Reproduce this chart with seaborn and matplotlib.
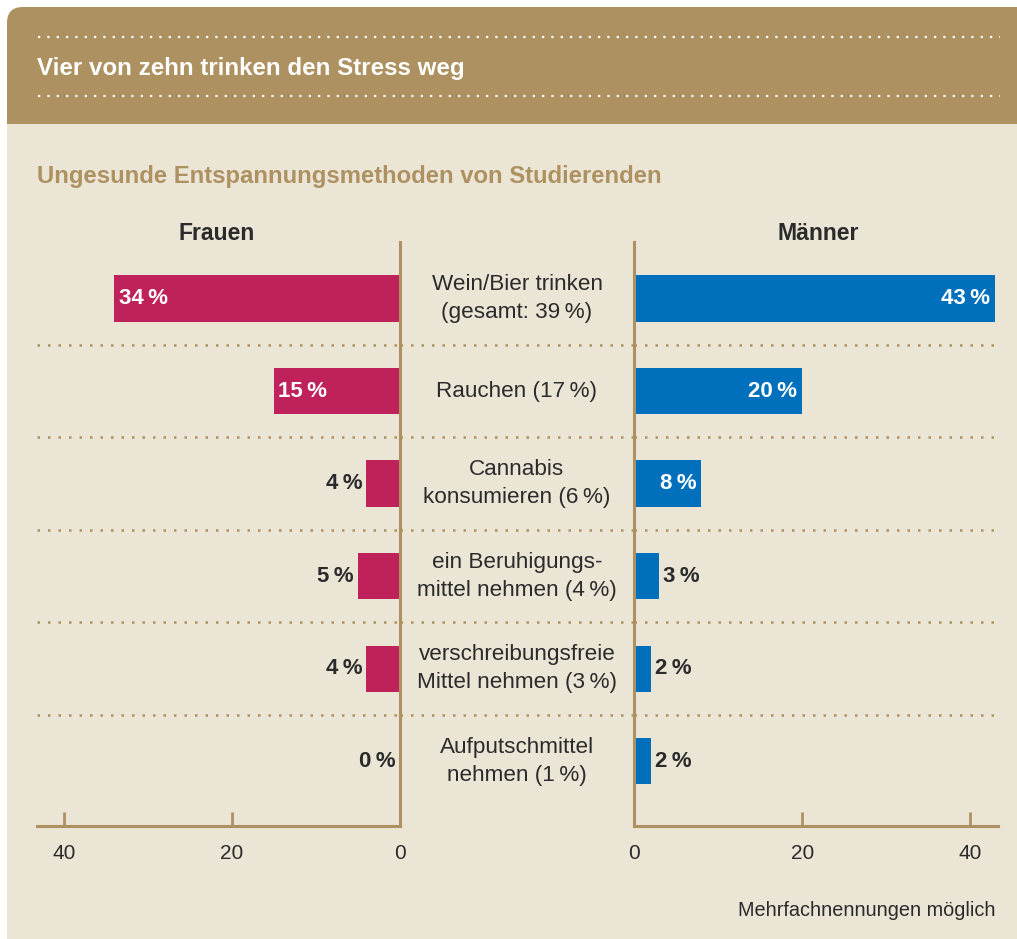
import numpy as np
import pandas as pd
import matplotlib.pyplot as plt
import seaborn as sns
from matplotlib.patches import FancyBboxPatch, Rectangle

# data
methods = [
    "Wein/Bier trinken\n(gesamt: 39\u2009%)",
    "Rauchen (17\u2009%)",
    "Cannabis\nkonsumieren (6\u2009%)",
    "ein Beruhigungs-\nmittel nehmen (4\u2009%)",
    "verschreibungsfreie\nMittel nehmen (3\u2009%)",
    "Aufputschmittel\nnehmen (1\u2009%)",
]
frauen = [34, 15, 4, 5, 4, 0]
maenner = [43, 20, 8, 3, 2, 2]
x_ticks = [0, 20, 40]

title = "Vier von zehn trinken den Stress weg"
subtitle = "Ungesunde Entspannungsmethoden von Studierenden"
note = "Mehrfachnennungen möglich"

# colours
gold = "#ae9160"
beige = "#ebe5d6"
magenta = "#bf215b"
blue = "#0070bc"
dark = "#2b2b2b"

sns.set_theme(style="white")
plt.rcParams["font.family"] = ["Liberation Sans", "DejaVu Sans"]

W, H = 1017, 939
fig = plt.figure(figsize=(W / 100, H / 100), dpi=100, facecolor="white")


def px_rect(x0, y0, x1, y1):
    return [x0 / W, 1 - y1 / H, (x1 - x0) / W, (y1 - y0) / H]


dots = (0, (1, 3.2))

# background card in pixel coordinates
bg = fig.add_axes([0, 0, 1, 1], zorder=0)
bg.set_xlim(0, W)
bg.set_ylim(H, 0)
bg.axis("off")
bg.add_patch(FancyBboxPatch((7, 7), 1200, 300, boxstyle="round,pad=0,rounding_size=16",
                            fc=gold, ec="none"))
bg.add_patch(Rectangle((7, 124), 1200, 900, fc=beige, ec="none"))
for yy in (37, 96):
    bg.plot([38, 1000], [yy, yy], color="white", lw=1.6, linestyle=dots,
            dash_capstyle="butt")
bg.text(37, 68, title, color="white", fontsize=17.4, fontweight="bold", va="center")
bg.text(37, 177, subtitle, color=gold, fontsize=17.2, fontweight="bold", va="center")
bg.text(217, 234, "Frauen", color=dark, fontsize=16.6, fontweight="bold",
        ha="center", va="center")
bg.text(818, 234, "Männer", color=dark, fontsize=16.6, fontweight="bold",
        ha="center", va="center")
bg.text(995, 911, note, color=dark, fontsize=14.3, ha="right", va="center")

df = pd.DataFrame({"methode": methods, "frauen": frauen, "maenner": maenner})

ylim = (5.70, -0.61)
axL = fig.add_axes(px_rect(37, 242, 400, 826), zorder=1)
axM = fig.add_axes(px_rect(400, 242, 634, 826), zorder=1)
axR = fig.add_axes(px_rect(634, 242, 998, 826), zorder=1)

sns.barplot(data=df, x="frauen", y="methode", orient="h", color=magenta,
            saturation=1, width=0.5, linewidth=0, ax=axL)
sns.barplot(data=df, x="maenner", y="methode", orient="h", color=blue,
            saturation=1, width=0.5, linewidth=0, ax=axR)

axL.set_xlim(43.2, 0)
axR.set_xlim(0, 43.3)

for ax, keep in ((axL, ("right", "bottom")), (axR, ("left", "bottom"))):
    ax.set_facecolor("none")
    ax.set_ylim(*ylim)
    ax.set_yticks([])
    ax.set_xlabel("")
    ax.set_ylabel("")
    ax.set_xticks(x_ticks)
    for side, sp in ax.spines.items():
        if side in keep:
            sp.set_color(gold)
            sp.set_linewidth(2.2)
            sp.set_zorder(3)
        else:
            sp.set_visible(False)
    ax.tick_params(axis="x", bottom=True, direction="in", length=10, width=2,
                   color=gold, labelcolor=dark, labelsize=15, pad=13)
    for k in range(len(methods) - 1):
        ax.axhline(k + 0.5, color=gold, lw=1.8, linestyle=dots,
                   dash_capstyle="butt", zorder=1)

axM.set_xlim(0, 1)
axM.set_ylim(*ylim)
axM.axis("off")
for k, lab in enumerate(methods):
    axM.text(0.5, k, lab, ha="center", va="center", fontsize=16.2, color=dark,
             linespacing=1.45)
for k in range(len(methods) - 1):
    axM.axhline(k + 0.5, color=gold, lw=1.8, linestyle=dots,
                dash_capstyle="butt", zorder=1)

# value labels
for k, v in enumerate(frauen):
    lab = f"{v}\u2009%"
    if v >= 8:
        axL.text(v - 0.5, k, lab, ha="left", va="center", color="white",
                 fontsize=16, fontweight="bold")
    else:
        axL.text(v + 0.5, k, lab, ha="right", va="center", color=dark,
                 fontsize=16, fontweight="bold")
for k, v in enumerate(maenner):
    lab = f"{v}\u2009%"
    if v >= 8:
        axR.text(v - 0.6, k, lab, ha="right", va="center", color="white",
                 fontsize=16, fontweight="bold")
    else:
        axR.text(v + 0.5, k, lab, ha="left", va="center", color=dark,
                 fontsize=16, fontweight="bold")

fig.savefig("out.png", dpi=100, facecolor="white")
